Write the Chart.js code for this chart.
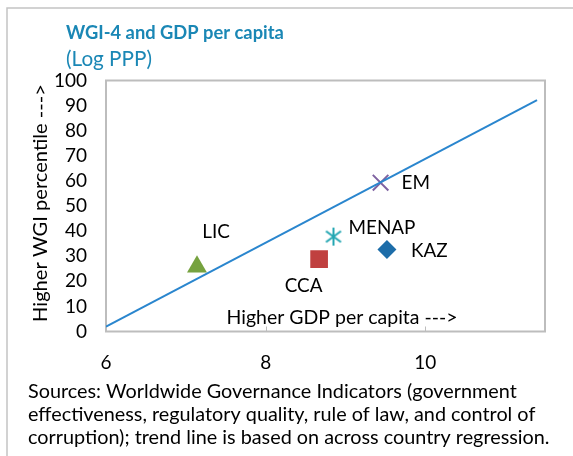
<!DOCTYPE html>
<html>
<head>
<meta charset="utf-8">
<script src="https://cdn.jsdelivr.net/npm/chart.js@4"></script>
<style>
html,body{margin:0;padding:0;background:#fff;}
canvas{display:block;}
</style>
</head>
<body>
<canvas id="c" width="573" height="456"></canvas>
<script>
// ---- data ----
const categories = ['EM', 'MENAP', 'KAZ', 'CCA', 'LIC'];
const gdpValues = [9.44, 8.85, 9.52, 8.67, 7.14];
const wgiValues = [59.3, 37.8, 32.7, 28.8, 25.8];
const trendX = [6, 11.4];
const trendY = [1.9, 92.2];
const xTicks = [6, 8, 10];
const yTicks = [0, 10, 20, 30, 40, 50, 60, 70, 80, 90, 100];
const titleText = 'WGI-4 and GDP per capita';
const subtitleText = '(Log PPP)';
const xTitle = 'Higher GDP per capita --->';
const yTitle = 'Higher WGI percentile --->';
const sourceLines = [
  'Sources: Worldwide Governance Indicators (government',
  'effectiveness, regulatory quality, rule of law, and control of',
  'corruption); trend line is based on across country regression.'
];

// ---- styles ----
const FONT = 'Lato, "Open Sans", sans-serif';
const pointColors = ['#7F62A1', '#23A6B2', '#1D6DA9', '#C0403F', '#76A23F'];
const pointStyles = ['crossRot', 'asterisk', 'rectRot', 'rect', 'triangle'];
const pointRadii = [11, 9, 9.5, 12.5, 11.5];
// label offsets (px) relative to marker
const labelDX = [21, 15, 24, -15.5, 19];
const labelDY = [0, -9, 1, 27, -35];
const labelAlign = ['left', 'left', 'left', 'center', 'center'];

function makeAsterisk(color) {
  const cv = document.createElement('canvas');
  cv.width = 20; cv.height = 20;
  const g = cv.getContext('2d');
  g.strokeStyle = color; g.lineWidth = 2;
  g.beginPath();
  g.moveTo(10, 1); g.lineTo(10, 19);
  g.moveTo(2.5, 4.5); g.lineTo(17.5, 15.5);
  g.moveTo(2.5, 15.5); g.lineTo(17.5, 4.5);
  g.stroke();
  return cv;
}
const styleList = pointStyles.map((s, i) => s === 'asterisk' ? makeAsterisk(pointColors[i]) : s);

const scatterData = gdpValues.map((x, i) => ({ x: x, y: wgiValues[i] }));
const trendData = trendX.map((x, i) => ({ x: x, y: trendY[i] }));

// font size that makes text span a target width
function fitSize(ctx, text, target, weight) {
  ctx.font = (weight || '') + ' 20px ' + FONT;
  const w = ctx.measureText(text).width;
  return 20 * target / w;
}

const decor = {
  id: 'decor',
  beforeDraw(chart) {
    const ctx = chart.ctx;
    const a = chart.chartArea;
    ctx.save();
    // outer frame
    ctx.strokeStyle = '#C4C4C4';
    ctx.lineWidth = 1.5;
    ctx.strokeRect(7, 8, 700, 600);
    // plot frame
    ctx.strokeStyle = '#BDBDBD';
    ctx.lineWidth = 2;
    ctx.strokeRect(a.left, a.top, a.right - a.left, a.bottom - a.top);
    // tick marks on x axis
    const xs = chart.scales.x;
    ctx.lineWidth = 1;
    xs.ticks.forEach(t => {
      const px = Math.round(xs.getPixelForValue(t.value)) + 0.5;
      if (px > a.left + 2 && px < a.right - 2) {
        ctx.beginPath();
        ctx.moveTo(px, a.bottom);
        ctx.lineTo(px, a.bottom - 5);
        ctx.stroke();
      }
    });
    // titles
    ctx.fillStyle = '#1A87B5';
    ctx.textBaseline = 'middle';
    ctx.textAlign = 'left';
    ctx.font = 'bold ' + fitSize(ctx, titleText, 218, 'bold') + 'px ' + FONT;
    ctx.fillText(titleText, 66, 33);
    ctx.font = fitSize(ctx, subtitleText, 86) + 'px ' + FONT;
    ctx.fillText(subtitleText, 66, 59);
    // x title inside plot
    ctx.fillStyle = '#000';
    ctx.font = fitSize(ctx, xTitle, 231) + 'px ' + FONT;
    ctx.textAlign = 'center';
    ctx.fillText(xTitle, 342, 318);
    // y title rotated
    ctx.save();
    ctx.translate(41, 203);
    ctx.rotate(-Math.PI / 2);
    ctx.font = fitSize(ctx, yTitle, 238) + 'px ' + FONT;
    ctx.fillText(yTitle, 0, 0);
    ctx.restore();
    // sources
    ctx.textAlign = 'left';
    const srcTargets = [485, 509, 525];
    let s = 0;
    sourceLines.forEach((l, i) => { s += fitSize(ctx, l, srcTargets[i]); });
    ctx.font = (s / sourceLines.length) + 'px ' + FONT;
    sourceLines.forEach((l, i) => ctx.fillText(l, 28, 392 + i * 23));
    ctx.restore();
  },
  afterDatasetsDraw(chart) {
    const ctx = chart.ctx;
    const xs = chart.scales.x, ys = chart.scales.y;
    ctx.save();
    ctx.fillStyle = '#000';
    ctx.font = fitSize(ctx, 'MENAP', 67) + 'px ' + FONT;
    ctx.textBaseline = 'middle';
    categories.forEach((c, i) => {
      const px = xs.getPixelForValue(gdpValues[i]);
      const py = ys.getPixelForValue(wgiValues[i]);
      ctx.textAlign = labelAlign[i];
      ctx.fillText(c, px + labelDX[i], py + labelDY[i]);
    });
    ctx.restore();
  }
};

new Chart(document.getElementById('c'), {
  type: 'scatter',
  data: {
    datasets: [
      {
        label: 'points',
        data: scatterData,
        pointStyle: styleList,
        pointRadius: pointRadii,
        pointHoverRadius: pointRadii,
        backgroundColor: pointColors,
        borderColor: pointColors,
        borderWidth: [2, 2, 0, 0, 0],
        order: 2
      },
      {
        label: 'trend',
        type: 'line',
        data: trendData,
        showLine: true,
        borderColor: '#2A86CE',
        borderWidth: 2,
        pointRadius: 0,
        fill: false,
        order: 1
      }
    ]
  },
  options: {
    responsive: false,
    devicePixelRatio: 1,
    animation: false,
    events: [],
    layout: { padding: { left: 0, top: 80.5, right: 28, bottom: 74.5 } },
    plugins: { legend: { display: false }, tooltip: { enabled: false } },
    scales: {
      x: {
        type: 'linear',
        min: 6,
        max: 11.5,
        afterBuildTicks: s => { s.ticks = xTicks.map(v => ({ value: v })); },
        afterFit: s => { s.height = 50; },
        grid: { display: false, drawTicks: false },
        border: { display: false },
        ticks: { autoSkip: false, maxRotation: 0, padding: 20, color: '#000', font: { family: FONT, size: 19 } }
      },
      y: {
        type: 'linear',
        min: 0,
        max: 100,
        afterBuildTicks: s => { s.ticks = yTicks.map(v => ({ value: v })); },
        afterFit: s => { s.width = 106; },
        grid: { display: false, drawTicks: false },
        border: { display: false },
        ticks: { autoSkip: false, padding: 19, color: '#000', font: { family: FONT, size: 19 } }
      }
    }
  },
  plugins: [decor]
});
</script>
</body>
</html>
